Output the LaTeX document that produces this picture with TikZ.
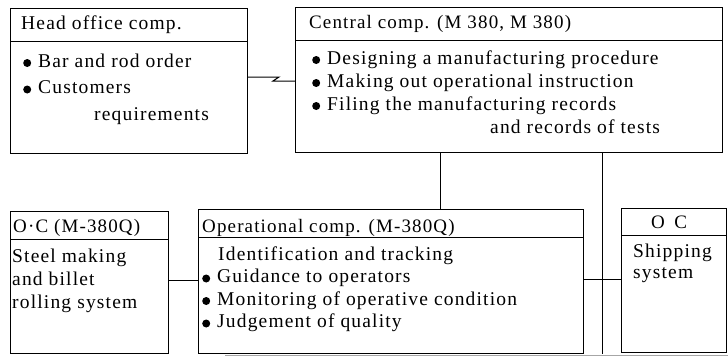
\documentclass[tikz,border=0pt]{standalone}
\usepackage{fontspec}
\setmainfont{Liberation Serif}[LetterSpace=6]
\newcommand{\bdot}{\tikz\fill (0,4pt) circle (4pt);\hspace{7pt}}
\begin{document}
\begin{tikzpicture}[x=1pt,y=-1pt]
    \tikzset{box/.style = {draw,line width=1pt,inner sep=0pt,anchor=north west}}
    \tikzset{txt/.style = {anchor=base west,inner sep=0pt,align=left}}
    \tikzset{link/.style = {line width=1pt}}
    \useasboundingbox (0,0) rectangle (728,357);
    \node[box,minimum width=237pt,minimum height=145pt] (head) at (10,8) {};
    \node[box,minimum width=427pt,minimum height=145pt] (central) at (295,7) {};
    \node[box,minimum width=158pt,minimum height=142pt] (oc) at (10,211) {};
    \node[box,minimum width=385pt,minimum height=144pt] (opr) at (198,209) {};
    \node[box,minimum width=105pt,minimum height=144pt] (ship) at (621,208) {};
    % header rules
    \draw[link] (head.west |- 0,41) -- (head.east |- 0,41);
    \draw[link] (central.west |- 0,40) -- (central.east |- 0,40);
    \draw[link] (oc.west |- 0,239) -- (oc.east |- 0,239);
    \draw[link] (opr.west |- 0,237) -- (opr.east |- 0,237);
    \draw[link] (ship.west |- 0,235) -- (ship.east |- 0,235);
    % texts (multi-line nodes sit on their last baseline)
    \node[txt,font=\fontsize{19.5}{26.5}\selectfont] (head-t) at (21,29) {Head office comp.};
    \node[txt,font=\fontsize{19.5}{26.5}\selectfont] (head-b) at (23,120)
      {\bdot Bar and rod order\\ \bdot Customers\\ \hspace*{71pt}requirements};
    \node[txt,font=\fontsize{19}{23}\selectfont] (central-t) at (309,28) {Central comp. (M 380, M 380)};
    \node[txt,font=\fontsize{19.5}{23}\selectfont] (central-b) at (312,133)
      {\bdot Designing a manufacturing procedure\\ \bdot Making out operational instruction\\
       \bdot Filing the manufacturing records\\ \hspace*{178pt}and records of tests};
    \node[txt,font=\fontsize{19}{23}\selectfont] (oc-t) at (13,232) {O·C (M-380Q)};
    \node[txt,font=\fontsize{19.5}{23}\selectfont] (oc-b) at (12,308)
      {Steel making\\ and billet\\ rolling system};
    \node[txt,font=\fontsize{19}{22.5}\selectfont] (opr-t) at (202,232) {Operational comp. (M-380Q)};
    \node[txt,font=\fontsize{19.5}{22.5}\selectfont] (opr-b) at (202,327.5)
      {\hspace*{16pt}Identification and tracking\\ \bdot Guidance to operators\\
       \bdot Monitoring of operative condition\\ \bdot Judgement of quality};
    \node[txt,anchor=base,font=\fontsize{19}{21}\selectfont] (ship-t) at (669,228) {O\enspace C};
    \node[txt,font=\fontsize{19.5}{21}\selectfont] (ship-b) at (633,278) {Shipping\\ system};
    % connectors
    \coordinate (bus) at (602,354);
    \draw[link] (head.east |- 0,77) -- ++(31,0) -- ++(-6,4) -- (central.west |- 0,81);
    \draw[link] (central.south -| 440,0) -- (opr.north -| 440,0);
    \draw[link] (central.south -| bus) -- (bus);
    \draw[link] (oc.east |- 0,280) -- (opr.west |- 0,280);
    \draw[link] (opr.east |- 0,279) -- (ship.west |- 0,279);
    \draw[gray!70,line width=1.5pt] (225,355.5) -- (728,355.5);
\end{tikzpicture}
\end{document}
